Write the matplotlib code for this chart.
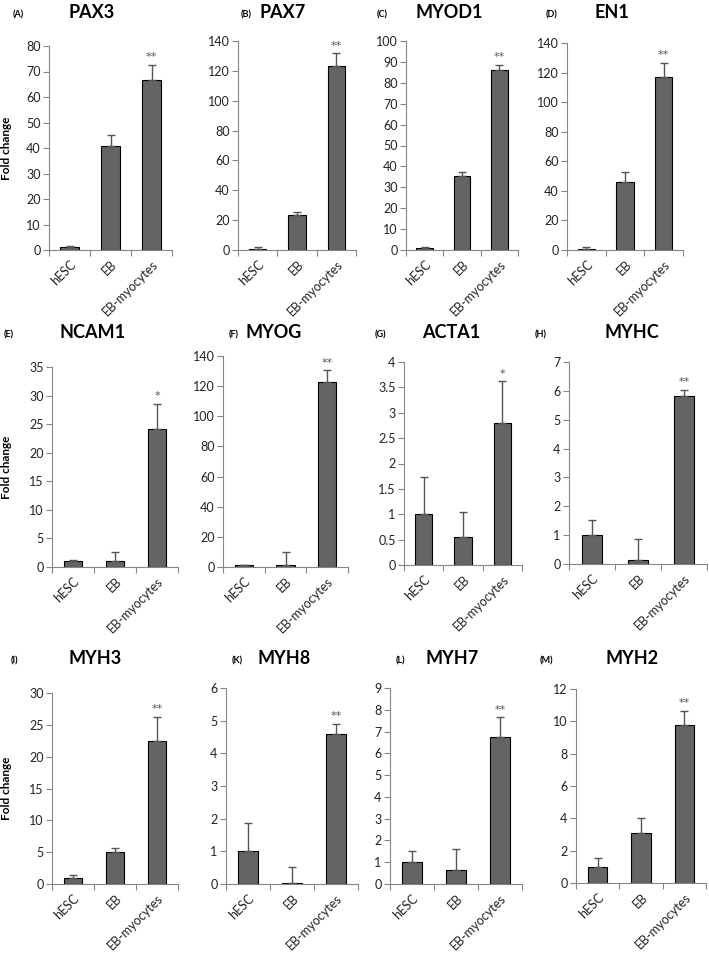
import matplotlib
matplotlib.use('Agg')
import matplotlib.pyplot as plt

plt.rcParams['font.family'] = ['Lato', 'DejaVu Sans']

groups = ['hESC', 'EB', 'EB-myocytes']

genes = ['PAX3', 'PAX7', 'MYOD1', 'EN1',
         'NCAM1', 'MYOG', 'ACTA1', 'MYHC',
         'MYH3', 'MYH8', 'MYH7', 'MYH2']
letters = ['(A)', '(B)', '(C)', '(D)', '(E)', '(F)', '(G)', '(H)',
           '(I)', '(K)', '(L)', '(M)']

means = [[1, 40.7, 66.7], [1, 23.3, 123], [1, 35.3, 86.3], [1, 46.3, 117],
         [1, 1.1, 24.2], [1, 1.5, 123], [1, 0.55, 2.79], [1, 0.14, 5.83],
         [1, 5.0, 22.5], [1, 0.02, 4.6], [1, 0.65, 6.75], [1, 3.1, 9.75]]
errs = [[0.5, 4.5, 5.8], [0.8, 2.0, 8.7], [0.6, 2.2, 2.1], [0.8, 6.7, 9.6],
        [0.2, 1.5, 4.4], [0.5, 8.3, 7.5], [0.73, 0.5, 0.83], [0.52, 0.74, 0.2],
        [0.45, 0.7, 3.7], [0.88, 0.5, 0.3], [0.52, 0.95, 0.9], [0.52, 0.93, 0.9]]
stars = ['**', '**', '**', '**', '*', '**', '*', '**', '**', '**', '**', '**']
ymax = [80, 140, 100, 140, 35, 140, 4, 7, 30, 6, 9, 12]
ystep = [10, 20, 10, 20, 5, 20, 0.5, 1, 5, 1, 1, 2]

# axes boxes in pixels: left, right, top, bottom
boxes = [(49, 172, 46, 250), (238, 356, 41, 250), (406, 518, 41, 250), (567, 683, 43, 250),
         (52, 178, 367, 567), (223, 348, 356, 567), (404, 522, 362, 565), (569, 707, 362, 564),
         (52, 178, 693, 884), (226, 358, 688, 884), (390, 522, 688, 884), (576, 706, 689, 883)]
title_pos = [(92, 12), (283, 12), (449, 12), (612, 12),
             (93, 332), (274, 333), (451, 333), (632, 333),
             (95, 658), (284, 658), (452, 658), (632, 658)]
letter_pos = [(18, 15), (246, 15), (382, 15), (552, 15),
              (9, 335), (234, 335), (380, 335), (541, 335),
              (14, 661), (237, 661), (400, 661), (546, 661)]

W, H = 709, 960
fig = plt.figure(figsize=(W / 100, H / 100), dpi=100)
axcol = '#868686'

for i in range(12):
    l, r, t, b = boxes[i]
    ax = fig.add_axes([l / W, 1 - b / H, (r - l) / W, (b - t) / H])
    x = range(3)
    ax.bar(x, means[i], width=0.44, color='#646464', edgecolor='black', linewidth=0.8, zorder=2)
    ax.errorbar(x, means[i], yerr=[[0, 0, 0], errs[i]], fmt='none', ecolor='#555555',
                elinewidth=1.0, capsize=3, capthick=1.0, zorder=3)
    top = means[i][2] + errs[i][2]
    ax.annotate(stars[i], (2, top), xytext=(0, 2), textcoords='offset points',
                ha='center', va='bottom', fontsize=8, color='#555555', family='DejaVu Sans')
    ax.set_xlim(-0.5, 2.5)
    ax.set_ylim(0, ymax[i])
    ticks = [k * ystep[i] for k in range(int(round(ymax[i] / ystep[i])) + 1)]
    ax.set_yticks(ticks)
    ax.set_yticklabels(['%g' % v for v in ticks])
    ax.set_xticks([-0.5, 0.5, 1.5, 2.5])
    ax.set_xticklabels([])
    ax.set_xticks([0, 1, 2], minor=True)
    ax.set_xticklabels(groups, minor=True, rotation=45, ha='right', rotation_mode='anchor')
    ax.tick_params(axis='x', which='major', length=4, color=axcol, direction='out')
    ax.tick_params(axis='x', which='minor', length=0, pad=6, labelsize=9, labelcolor='#222222')
    ax.tick_params(axis='y', length=4, color=axcol, labelsize=9, labelcolor='#222222', pad=2)
    for s in ['top', 'right']:
        ax.spines[s].set_visible(False)
    for s in ['left', 'bottom']:
        ax.spines[s].set_color(axcol)
        ax.spines[s].set_linewidth(0.8)
    tx, ty = title_pos[i]
    fig.text(tx / W, 1 - ty / H, genes[i], ha='center', va='center', fontsize=13, fontweight='bold')
    lx, ly = letter_pos[i]
    fig.text(lx / W, 1 - ly / H, letters[i], ha='center', va='center', fontsize=6.5, fontweight='bold')
    if i % 4 == 0:
        fig.text(7 / W, 1 - ((t + b) / 2 + 0) / H, 'Fold change', rotation=90, ha='center',
                 va='center', fontsize=8.5, fontweight='bold')

fig.savefig('out.png', dpi=100)
